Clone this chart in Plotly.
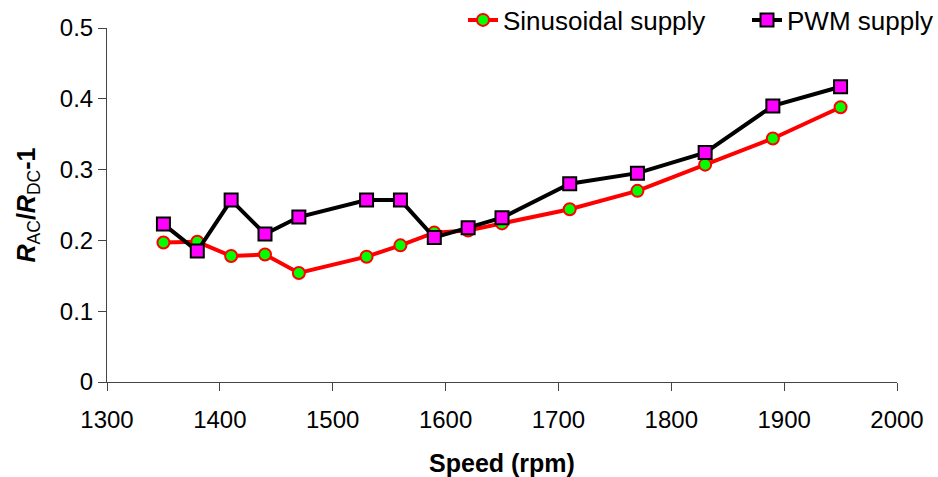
import plotly.graph_objects as go

speed = [1350, 1380, 1410, 1440, 1470, 1530, 1560, 1590, 1620, 1650, 1710, 1770, 1830, 1890, 1950]
sinusoidal = [0.197, 0.198, 0.178, 0.180, 0.154, 0.177, 0.193, 0.211, 0.214, 0.224, 0.244, 0.270, 0.307, 0.344, 0.388]
pwm = [0.223, 0.185, 0.257, 0.209, 0.233, 0.257, 0.257, 0.204, 0.218, 0.232, 0.280, 0.295, 0.324, 0.390, 0.417]

x_ticks = [1300, 1400, 1500, 1600, 1700, 1800, 1900, 2000]
y_ticks = [0, 0.1, 0.2, 0.3, 0.4, 0.5]
y_tick_text = ["0", "0.1", "0.2", "0.3", "0.4", "0.5"]

fig = go.Figure()
fig.add_trace(go.Scatter(
    x=speed, y=sinusoidal, name="Sinusoidal supply", mode="lines+markers",
    line=dict(color="#ff0000", width=4),
    marker=dict(symbol="circle", size=12, color="#00ff00", line=dict(color="#ff0000", width=2)),
    legend="legend",
))
fig.add_trace(go.Scatter(
    x=speed, y=pwm, name="PWM supply", mode="lines+markers",
    line=dict(color="#000000", width=4),
    marker=dict(symbol="square", size=13, color="#ff00ff", line=dict(color="#000000", width=2)),
    legend="legend2",
))

font = "Arial, Liberation Sans, sans-serif"
leg_common = dict(orientation="h", xanchor="right", xref="container",
                  y=1 - 20 / 477, yanchor="middle", yref="container",
                  font=dict(size=26), bgcolor="rgba(0,0,0,0)")
fig.update_layout(
    width=938, height=477,
    margin=dict(l=107, r=41, t=28, b=95, autoexpand=False),
    paper_bgcolor="white", plot_bgcolor="white",
    font=dict(family=font, size=24, color="black"),
    showlegend=True,
    legend=dict(x=711 / 938, **leg_common),
    legend2=dict(x=1.0, **leg_common),
    xaxis=dict(range=[1300, 2000], tickvals=x_ticks, showgrid=False, zeroline=False,
               showline=True, linecolor="#444", linewidth=1,
               ticks="outside", ticklen=8, tickcolor="#444", tickfont=dict(size=24),
               ticklabelstandoff=8,
               title=dict(text="<b>Speed (rpm)</b>", font=dict(size=25), standoff=22)),
    yaxis=dict(range=[0, 0.5], tickvals=y_ticks, ticktext=y_tick_text, showgrid=False, zeroline=False,
               showline=True, linecolor="#444", linewidth=1,
               ticks="outside", ticklen=8, tickcolor="#444", tickfont=dict(size=24),
               title=dict(text="<b><i>R</i></b><sub>AC</sub><b>/<i>R</i></b><sub>DC</sub><b>-1</b>",
                          font=dict(size=25), standoff=17)),
)
fig.write_html("out.html")
